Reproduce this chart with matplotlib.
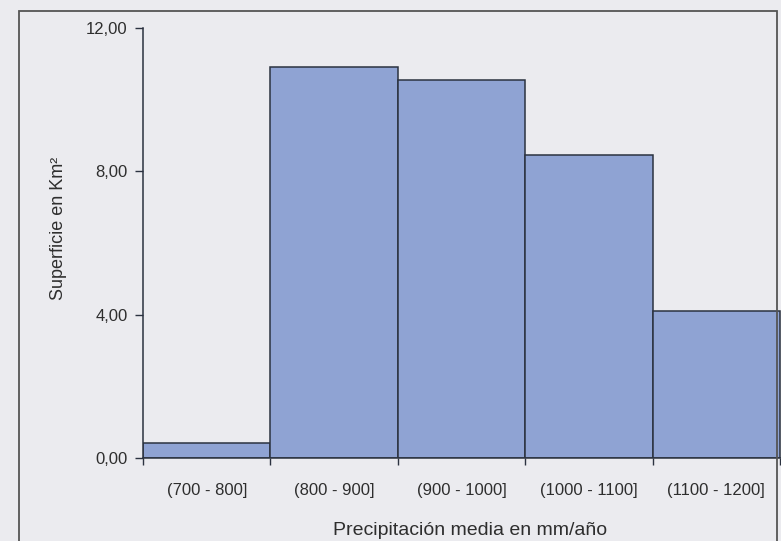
import matplotlib.pyplot as plt
import matplotlib.patches as mpatches

plt.rcParams["font.family"] = ["Liberation Sans", "DejaVu Sans"]

intervalos = ["(700 - 800]", "(800 - 900]", "(900 - 1000]", "(1000 - 1100]", "(1100 - 1200]"]
superficie = [0.42, 10.92, 10.56, 8.46, 4.09]
y_ticks = [0, 4, 8, 12]
y_labels = ["0,00", "4,00", "8,00", "12,00"]

bg = "#ebebef"
bar_color = "#8fa3d3"
edge = "#2b3240"
txt = "#2e2e2e"

fig = plt.figure(figsize=(7.81, 5.41), dpi=100, facecolor=bg)

# marco exterior del grafico
fig.patches.append(mpatches.Rectangle((0.024, -0.05), 0.971, 1.03, transform=fig.transFigure,
                                      fill=False, edgecolor="#555555", linewidth=1.3))

ax = fig.add_axes([143 / 781, 83 / 541, (781 - 143) / 781, 430 / 541])
ax.set_facecolor(bg)

x = range(len(intervalos))
ax.bar(x, superficie, width=1.0, color=bar_color, edgecolor=edge, linewidth=1.1)

ax.set_ylim(0, 12)
ax.set_xlim(-0.5, -0.5 + (781 - 143) / 127.4)

ax.set_yticks(y_ticks)
ax.set_yticklabels(y_labels)
ax.set_xticks(list(x))
ax.set_xticklabels(intervalos)

# marcas en los limites de cada categoria
ax.set_xticks([i + 0.5 for i in range(-1, len(intervalos))], minor=True)
ax.tick_params(axis="x", which="major", length=0, pad=18, labelsize=12, labelcolor=txt)
ax.tick_params(axis="x", which="minor", length=5, width=1, color=edge)
ax.tick_params(axis="y", length=6, width=1, color=edge, labelsize=12, labelcolor=txt, pad=5)

for s in ["top", "right"]:
    ax.spines[s].set_visible(False)
for s in ["left", "bottom"]:
    ax.spines[s].set_color(edge)
    ax.spines[s].set_linewidth(1.1)

ax.set_ylabel("Superficie en Km²", fontsize=13, color=txt)
ax.yaxis.set_label_coords((67 - 143) / (781 - 143), (458 - 228) / 430)
ax.set_xlabel("Precipitación media en mm/año", fontsize=14, color=txt)
ax.xaxis.set_label_coords((470 - 143) / (781 - 143), -64 / 430)

fig.savefig("out.png", dpi=100, facecolor=bg)
